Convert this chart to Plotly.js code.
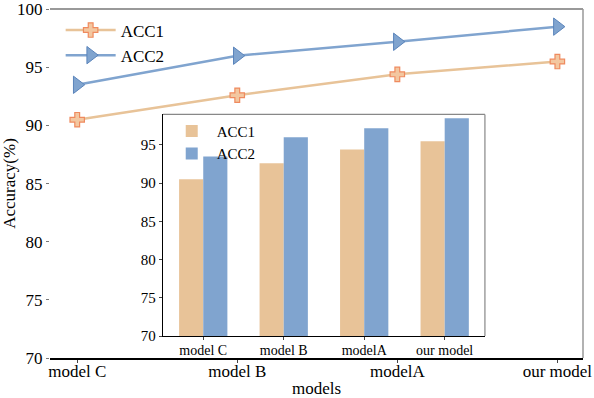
<!DOCTYPE html>
<html>
<head>
<meta charset="utf-8">
<script src="https://cdn.plot.ly/plotly-3.0.1.min.js"></script>
<style>
  html, body { margin: 0; padding: 0; background: #fff; }
  #chart { width: 594px; height: 398px; }
</style>
</head>
<body>
<div id="chart"></div>
<script>
// data
const models = ['model C', 'model B', 'modelA', 'our model'];
const acc1 = [90.5, 92.6, 94.4, 95.5];
const acc2 = [93.5, 96.0, 97.2, 98.5];

const tan = '#e8c398';
const blue = '#80a4cf';
const serif = 'Liberation Serif';

function f(size) {
    return { family: serif, size: size, color: '#000' };
}

const traces = [
    {
        x: models, y: acc1, name: 'ACC1', type: 'scatter', mode: 'lines+markers',
        line: { color: tan, width: 2.5 },
        marker: { symbol: 'cross', size: 12, color: '#f3c7a0', line: { color: '#ef8a5e', width: 1.2 } },
        xaxis: 'x', yaxis: 'y', legend: 'legend'
    },
    {
        x: models, y: acc2, name: 'ACC2', type: 'scatter', mode: 'lines+markers',
        line: { color: blue, width: 2.5 },
        marker: { symbol: 'triangle-right', size: 15, color: blue, line: { color: '#5a84bb', width: 1 } },
        xaxis: 'x', yaxis: 'y', legend: 'legend'
    },
    // inset bar chart
    {
        x: models, y: acc1, name: 'ACC1', type: 'bar',
        marker: { color: tan }, xaxis: 'x2', yaxis: 'y2', legend: 'legend2'
    },
    {
        x: models, y: acc2, name: 'ACC2', type: 'bar',
        marker: { color: blue }, xaxis: 'x2', yaxis: 'y2', legend: 'legend2'
    }
];

const layout = {
    width: 594,
    height: 398,
    margin: { l: 50, r: 11, t: 9, b: 40 },
    paper_bgcolor: 'white',
    plot_bgcolor: 'white',
    font: f(17),
    barmode: 'group',
    bargap: 0.4,
    bargroupgap: 0,
    xaxis: {
        type: 'category',
        range: [-0.17, 3.16],
        showgrid: false, zeroline: false,
        showline: true, linecolor: '#000', linewidth: 1.5,
        ticks: 'outside', ticklen: 3, tickcolor: '#444',
        ticklabelstandoff: -6,
        ticklabeloverflow: 'allow',
        tickfont: f(17),
        title: { text: 'models', font: f(17), standoff: 6 }
    },
    yaxis: {
        range: [70, 100.02],
        tickvals: [70, 75, 80, 85, 90, 95, 100],
        showgrid: false, zeroline: false,
        showline: false,
        ticks: 'outside', ticklen: 3, tickcolor: '#777',
        ticklabeloverflow: 'allow',
        tickfont: f(17),
        title: { text: 'Accuracy(%)', font: f(17), standoff: 8 }
    },
    xaxis2: {
        type: 'category',
        domain: [0.212, 0.816],
        range: [-0.5, 3.5],
        anchor: 'y2',
        showgrid: false, zeroline: false,
        showline: true, linecolor: '#000', linewidth: 1.2,
        ticks: 'outside', ticklen: 3, tickcolor: '#444',
        ticklabelstandoff: -2,
        tickfont: f(14)
    },
    yaxis2: {
        domain: [0.063, 0.698],
        range: [70, 99],
        dtick: 5,
        anchor: 'x2',
        showgrid: false, zeroline: false,
        showline: true, linecolor: '#000', linewidth: 1.2,
        ticks: 'outside', ticklen: 3, tickcolor: '#444',
        tickfont: f(15)
    },
    legend: {
        x: 0.02, y: 0.99, xanchor: 'left', yanchor: 'top',
        bgcolor: 'rgba(0,0,0,0)',
        font: f(17),
        itemwidth: 50,
        tracegroupgap: 0
    },
    legend2: {
        x: 0.219, y: 0.697, xanchor: 'left', yanchor: 'top',
        bgcolor: 'rgba(0,0,0,0)',
        font: f(15),
        itemwidth: 40,
        tracegroupgap: 0
    },
    shapes: [
        // gray top and right spines of the main axes
        { type: 'line', xref: 'paper', yref: 'paper', x0: 0, x1: 1, y0: 1, y1: 1, line: { color: '#777', width: 1.5 } },
        { type: 'line', xref: 'paper', yref: 'paper', x0: 1, x1: 1, y0: 0, y1: 1, line: { color: '#999', width: 1.5 } },
        // gray top and right spines of the inset
        { type: 'line', xref: 'paper', yref: 'paper', x0: 0.212, x1: 0.816, y0: 0.698, y1: 0.698, line: { color: '#888', width: 1.2 } },
        { type: 'line', xref: 'paper', yref: 'paper', x0: 0.816, x1: 0.816, y0: 0.063, y1: 0.698, line: { color: '#888', width: 1.2 } }
    ]
};

Plotly.newPlot('chart', traces, layout, { displayModeBar: false, staticPlot: true });
</script>
</body>
</html>
